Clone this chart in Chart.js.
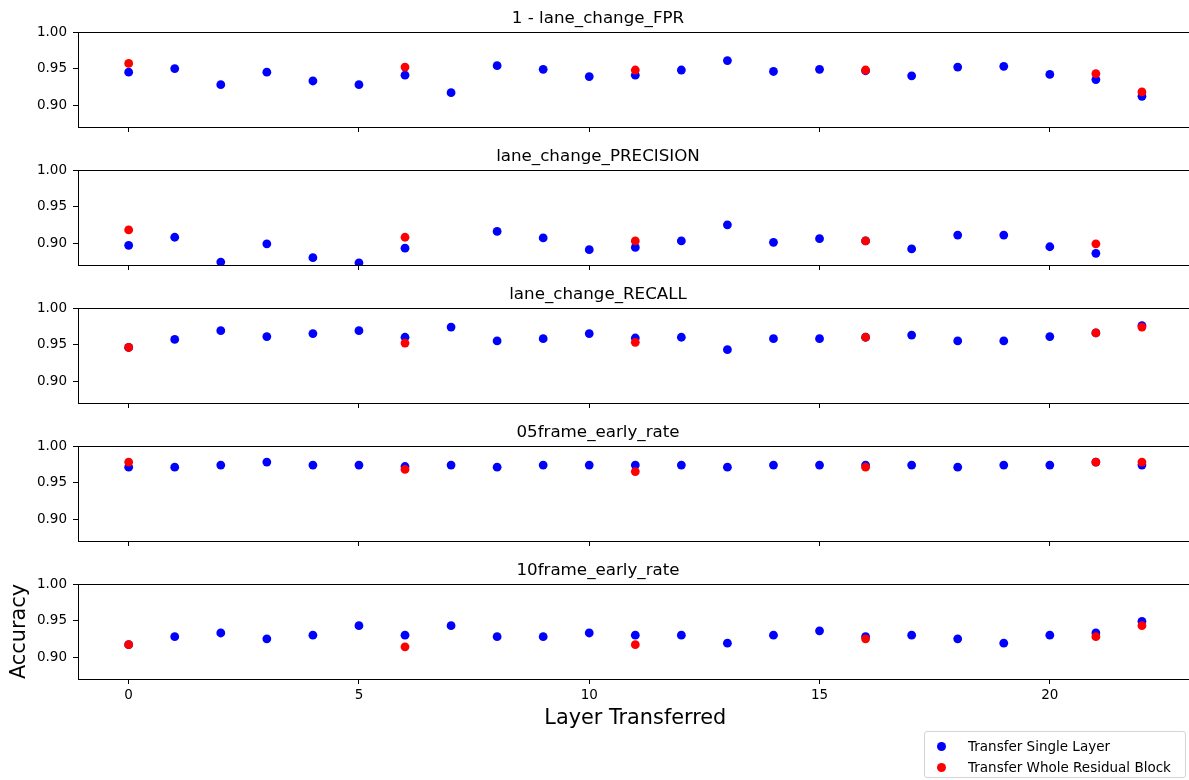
<!DOCTYPE html>
<html>
<head>
<meta charset="utf-8">
<script src="https://cdn.jsdelivr.net/npm/chart.js@4.4.1/dist/chart.umd.min.js"></script>
<style>
  html, body { margin: 0; padding: 0; background: #fff; overflow: hidden; }
  body { width: 1189px; height: 780px; position: relative; overflow: hidden; font-family: "DejaVu Sans", sans-serif; }
  canvas { position: absolute; left: 0; }
  #legend { position: absolute; left: 924px; top: 731px; width: 262px; height: 47px; border: 1px solid #d4d4d4; border-radius: 3px; box-sizing: border-box; background: #fff; }
  .item { position: absolute; left: 0; height: 20px; font-size: 13.5px; line-height: 20px; color: #000; white-space: nowrap; }
  .dot { position: absolute; left: 12px; top: 6px; width: 9px; height: 9px; border-radius: 50%; }
  .lbl { position: absolute; left: 43px; top: 0; }
</style>
</head>
<body>
<canvas id="c0"></canvas>
<canvas id="c1"></canvas>
<canvas id="c2"></canvas>
<canvas id="c3"></canvas>
<canvas id="c4"></canvas>
<div id="legend">
  <div class="item" style="top:4px"><span class="dot" style="background:#0000ff"></span><span class="lbl">Transfer Single Layer</span></div>
  <div class="item" style="top:25px"><span class="dot" style="background:#ff0000"></span><span class="lbl">Transfer Whole Residual Block</span></div>
</div>
<script>
// ---- data ----
const layers = [0,1,2,3,4,5,6,7,8,9,10,11,12,13,14,15,16,17,18,19,20,21,22];
const blockLayers = [0, 6, 11, 16, 21, 22];
const panelTitles = ["1 - lane_change_FPR", "lane_change_PRECISION", "lane_change_RECALL", "05frame_early_rate", "10frame_early_rate"];
const seriesNames = ["Transfer Single Layer", "Transfer Whole Residual Block"];
const xTickValues = [0, 5, 10, 15, 20];
const yTickValues = [0.90, 0.95, 1.00];
const xLabel = "Layer Transferred";
const yLabel = "Accuracy";

const fprSingle = [0.945,0.950,0.928,0.945,0.933,0.928,0.941,0.917,0.954,0.949,0.939,0.941,0.948,0.961,0.946,0.949,0.947,0.940,0.952,0.953,0.942,0.935,0.912];
const fprBlock = [0.957,0.952,0.948,0.948,0.943,0.918];

const precisionSingle = [0.897,0.908,0.874,0.899,0.880,0.873,0.893,0.855,0.916,0.907,0.891,0.894,0.903,0.925,0.901,0.906,0.903,0.892,0.911,0.911,0.895,0.886,0.850];
const precisionBlock = [0.918,0.908,0.903,0.903,0.899,0.856];

const recallSingle = [0.946,0.957,0.969,0.961,0.965,0.969,0.960,0.974,0.955,0.958,0.965,0.959,0.960,0.943,0.958,0.958,0.960,0.963,0.955,0.955,0.961,0.966,0.976];
const recallBlock = [0.946,0.952,0.953,0.960,0.966,0.974];

const early05Single = [0.971,0.971,0.974,0.978,0.974,0.974,0.972,0.974,0.971,0.974,0.974,0.974,0.974,0.971,0.974,0.974,0.974,0.974,0.971,0.974,0.974,0.978,0.974];
const early05Block = [0.978,0.968,0.965,0.971,0.978,0.978];

const early10Single = [0.917,0.928,0.933,0.925,0.930,0.943,0.930,0.943,0.928,0.928,0.933,0.930,0.930,0.919,0.930,0.936,0.928,0.930,0.925,0.919,0.930,0.933,0.949];
const early10Block = [0.917,0.914,0.917,0.925,0.928,0.943];

const singleSeries = [fprSingle, precisionSingle, recallSingle, early05Single, early10Single];
const blockSeries = [fprBlock, precisionBlock, recallBlock, early05Block, early10Block];

// ---- layout ----
const FONT = "DejaVu Sans";
const panelTops = [32, 170, 308, 446, 584];
const PLOT_H = 95;
const TITLE_BLOCK = 35; // title padding top 12 + lineHeight ~20 + bottom 3
const W = 1197; // plot area extends slightly past the right edge of the page, as in the source

const boxPlugin = {
  id: 'axesBox',
  afterDatasetsDraw(chart) {
    const a = chart.chartArea, ctx = chart.ctx;
    ctx.save();
    ctx.strokeStyle = '#000';
    ctx.lineWidth = 1;
    ctx.strokeRect(Math.round(a.left) + 0.5, Math.round(a.top) + 0.5, Math.round(a.right - a.left) - 1, Math.round(a.bottom - a.top));
    ctx.restore();
  }
};

for (let i = 0; i < 5; i++) {
  const last = i === 4;
  const xAxisH = last ? 56 : 6;
  const H = TITLE_BLOCK + PLOT_H + xAxisH;
  const cv = document.getElementById('c' + i);
  cv.width = W; cv.height = H;
  cv.style.width = W + 'px'; cv.style.height = H + 'px';
  cv.style.top = (panelTops[i] - TITLE_BLOCK) + 'px';

  const single = layers.map((l, k) => ({ x: l, y: singleSeries[i][k] }));
  const block = blockLayers.map((l, k) => ({ x: l, y: blockSeries[i][k] }));

  new Chart(cv, {
    type: 'scatter',
    data: {
      datasets: [
        { label: seriesNames[0], data: single, order: 1, backgroundColor: '#0000ff', borderColor: '#0000ff', pointRadius: 4.4, pointHoverRadius: 4.4, pointBorderWidth: 0 },
        { label: seriesNames[1], data: block, order: 0, backgroundColor: '#ff0000', borderColor: '#ff0000', pointRadius: 4.4, pointHoverRadius: 4.4, pointBorderWidth: 0 }
      ]
    },
    options: {
      responsive: false,
      animation: false,
      events: [],
      layout: { padding: { left: 0, right: 1, top: 0, bottom: 0 } },
      plugins: {
        legend: { display: false },
        tooltip: { enabled: false },
        title: {
          display: true,
          text: panelTitles[i],
          color: '#000',
          font: { family: FONT, size: 16.7, weight: 'normal', lineHeight: 1.2 },
          padding: { top: 12, bottom: 3 }
        }
      },
      scales: {
        x: {
          type: 'linear',
          min: -1.1, max: 23.1,
          afterBuildTicks(s) { s.ticks = xTickValues.map(v => ({ value: v })); },
          afterFit(s) { s.height = xAxisH; s.paddingLeft = 0; s.paddingRight = 0; s.paddingTop = 0; s.paddingBottom = 0; },
          border: { display: false },
          grid: { drawOnChartArea: false, drawTicks: true, tickLength: 5, color: '#000', lineWidth: 1 },
          ticks: { display: last, color: '#000', padding: 3, maxRotation: 0, autoSkip: false, font: { family: FONT, size: 13.5 } },
          title: { display: last, text: xLabel, color: '#000', font: { family: FONT, size: 20.8 }, padding: { top: 4, bottom: 4 } }
        },
        y: {
          type: 'linear',
          min: 0.87, max: 1.0,
          afterBuildTicks(s) { s.ticks = yTickValues.map(v => ({ value: v })); },
          afterFit(s) { s.width = 78; s.paddingLeft = 0; s.paddingRight = 0; s.paddingTop = 0; s.paddingBottom = 0; },
          border: { display: false },
          grid: { drawOnChartArea: false, drawTicks: true, tickLength: 5, color: '#000', lineWidth: 1 },
          ticks: { color: '#000', padding: 6, autoSkip: false, font: { family: FONT, size: 13.5 }, callback: v => Number(v).toFixed(2) },
          title: { display: last, text: yLabel, color: '#000', font: { family: FONT, size: 20.8 }, padding: { top: 7, bottom: 0 } }
        }
      }
    },
    plugins: [boxPlugin]
  });
}
</script>
</body>
</html>
